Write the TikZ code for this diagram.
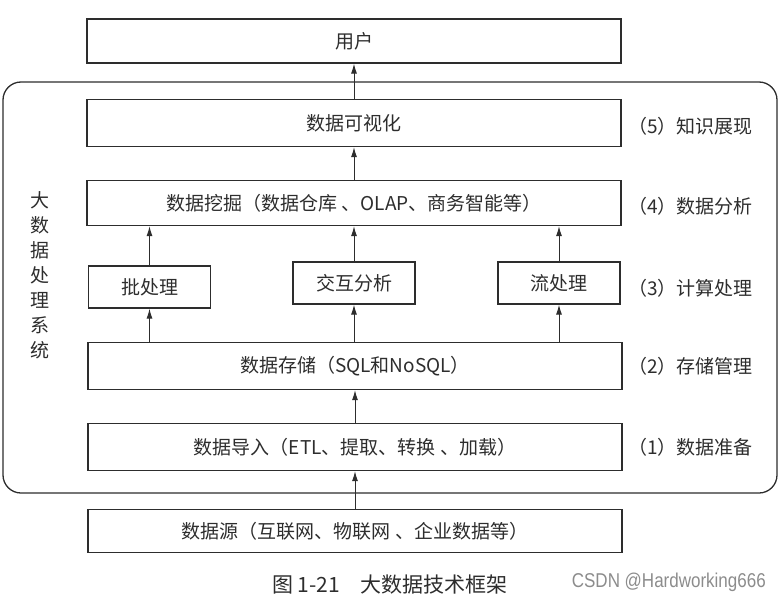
\documentclass[tikz,border=0pt]{standalone}
\usepackage{fontspec}
\setmainfont{Liberation Serif}
\newfontfamily\cjk{Noto Sans CJK SC}
\newfontfamily\wmfont[FakeStretch=0.85]{Liberation Sans}
\usetikzlibrary{arrows.meta}
\definecolor{ink}{RGB}{45,45,45}
\tikzset{
  box/.style={draw=ink, line width=1.3pt, minimum height=44pt, inner sep=0pt, font=\cjk\fontsize{19}{22}\selectfont, text=ink},
  smallbox/.style={box, minimum width=122pt, minimum height=42pt},
  lvl/.style={font=\cjk\fontsize{19}{22}\selectfont, text=ink, anchor=west, inner sep=0pt},
  arr/.style={draw=ink, line width=1pt, -{Latex[length=10pt,width=6pt]}},
}
\begin{document}
\begin{tikzpicture}[x=1pt,y=-1pt]
\useasboundingbox (0,0) rectangle (781,602);
\draw[ink, line width=1.3pt, rounded corners=18pt] (3,82) rectangle (777,493);
\node[box, minimum width=534pt, minimum height=44pt] (user) at (354,41) {用户};
\node[box, minimum width=534pt, minimum height=47pt] (vis) at (354,123) {数据可视化};
\node[box, minimum width=534pt, minimum height=45pt] (mine) at (354,203) {数据挖掘（数据仓库 、OLAP、商务智能等）};
\node[smallbox] (batch) at (149.5,287) {批处理};
\node[smallbox] (inter) at (354,283) {交互分析};
\node[smallbox] (stream) at (559,283) {流处理};
\node[box, minimum width=534pt, minimum height=47pt] (store) at (355,366) {数据存储（SQL和NoSQL）};
\node[box, minimum width=534pt, minimum height=47pt] (imp) at (355,447) {数据导入（ETL、提取、转换 、加载）};
\node[box, minimum width=534pt, minimum height=43pt] (src) at (355,531) {数据源（互联网、物联网 、企业数据等）};
\node[lvl] (l5) at (628,126) {（5）知识展现};
\node[lvl] (l4) at (628,206) {（4）数据分析};
\node[lvl] (l3) at (628,288) {（3）计算处理};
\node[lvl] (l2) at (628,366) {（2）存储管理};
\node[lvl] (l1) at (628,447) {（1）数据准备};
\node[font=\cjk\fontsize{19}{25}\selectfont, text=ink, align=center, inner sep=0pt] (sys) at (40,275) {大\\数\\据\\处\\理\\系\\统};
\node[font=\cjk\fontsize{21}{23}\selectfont, text=ink] (cap) at (390,585) {图 1-21\quad 大数据技术框架};
\node[font=\wmfont\fontsize{20}{22}\selectfont, text=black!45, anchor=east, inner sep=0pt] (wm) at (766,582) {CSDN @Hardworking666};
\draw[arr] (vis.north) -- (user.south);
\draw[arr] (mine.north) -- (vis.north |- vis.south);
\draw[arr] (batch.north) -- (batch.north |- mine.south);
\draw[arr] (inter.north) -- (inter.north |- mine.south);
\draw[arr] (stream.north) -- (stream.north |- mine.south);
\draw[arr] (batch.south |- store.north) -- (batch.south);
\draw[arr] (inter.south |- store.north) -- (inter.south);
\draw[arr] (stream.south |- store.north) -- (stream.south);
\draw[arr] (imp.north) -- (store.south);
\draw[arr] (src.north) -- (imp.south);
\end{tikzpicture}
\end{document}
